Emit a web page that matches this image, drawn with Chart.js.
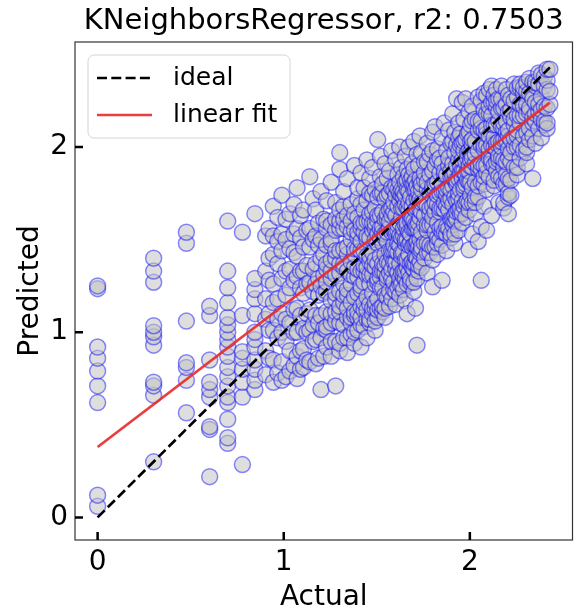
<!DOCTYPE html>
<html>
<head>
<meta charset="utf-8">
<title>KNeighborsRegressor</title>
<script src="https://cdn.jsdelivr.net/npm/chart.js@4.4.1/dist/chart.umd.min.js"></script>
<style>
  html, body { margin: 0; padding: 0; background: #ffffff; }
  canvas { display: block; }
</style>
</head>
<body>
<canvas id="chart" width="582" height="609"></canvas>
<script>
// Scatter of actual vs predicted values
const chartTitle = 'KNeighborsRegressor, r2: 0.7503';

// one entry per actual value, with the predictions seen at that value
const actualColumns = [
    0, 0.301, 0.477, 0.602, 0.699, 0.778, 0.845,
    0.903, 0.921, 0.944, 0.968, 0.99, 1.012, 1.033, 1.055, 1.072, 1.09,
    1.106, 1.124, 1.14, 1.158, 1.172, 1.187, 1.2, 1.215,
    1.23, 1.255, 1.279, 1.301,
    1.322, 1.342, 1.362, 1.38, 1.398, 1.415, 1.431, 1.447, 1.462, 1.477,
    1.491, 1.505, 1.519, 1.531, 1.544, 1.556, 1.568, 1.58, 1.591, 1.602,
    1.613, 1.623, 1.633, 1.643, 1.653, 1.663, 1.672, 1.681, 1.69, 1.699,
    1.708, 1.716, 1.724, 1.732, 1.74, 1.756, 1.771, 1.785, 1.8, 1.813,
    1.826, 1.839, 1.851, 1.863, 1.875, 1.886, 1.898, 1.908, 1.919, 1.929,
    1.94, 1.949, 1.959, 1.968, 1.978, 1.987, 1.996, 2.004, 2.013, 2.029,
    2.045, 2.061, 2.076, 2.09, 2.104, 2.117, 2.13, 2.143, 2.155, 2.17,
    2.182, 2.196, 2.207, 2.22, 2.238, 2.255, 2.27, 2.288, 2.305, 2.32,
    2.338, 2.352, 2.37, 2.384, 2.4, 2.415, 2.43
];

const predictedColumns = [
    [0.06, 0.12, 0.62, 0.71, 0.79, 0.86, 0.92, 1.235, 1.25],
    [0.30, 0.66, 0.71, 0.73, 0.93, 0.975, 1.0, 1.035, 1.27, 1.33, 1.40],
    [0.565, 0.74, 0.81, 0.835, 1.06, 1.48, 1.54],
    [0.22, 0.475, 0.49, 0.65, 0.69, 0.73, 0.85, 1.09, 1.14],
    [0.40, 0.43, 0.53, 0.62, 0.65, 0.71, 0.76, 0.81, 0.87, 0.92, 0.96, 1.0, 1.04, 1.08, 1.16, 1.24, 1.33, 1.60],
    [0.285, 0.65, 0.73, 0.80, 0.86, 0.895, 1.09, 1.54],
    [0.69, 0.74, 0.80, 0.85, 0.92, 0.96, 1.0, 1.10, 1.18, 1.23, 1.29, 1.64],
    [0.77, 0.90, 1.07, 1.18, 1.33, 1.52],
    [0.86, 1.01, 1.10, 1.28, 1.40, 1.56],
    [0.73, 0.85, 1.01, 1.16, 1.26, 1.42, 1.52, 1.68],
    [0.78, 0.97, 1.07, 1.18, 1.37, 1.49, 1.62],
    [0.74, 0.84, 1.00, 1.10, 1.29, 1.44, 1.53, 1.74],
    [0.76, 0.95, 1.07, 1.20, 1.33, 1.50, 1.61],
    [0.79, 0.90, 1.05, 1.24, 1.34, 1.45, 1.64],
    [0.82, 1.00, 1.12, 1.28, 1.43, 1.53, 1.69],
    [0.75, 0.87, 1.00, 1.13, 1.30, 1.41, 1.56, 1.78],
    [0.80, 0.90, 1.09, 1.24, 1.33, 1.51, 1.63],
    [0.81, 0.91, 1.02, 1.21, 1.33, 1.46, 1.66],
    [0.85, 1.00, 1.10, 1.26, 1.36, 1.55],
    [0.84, 1.01, 1.12, 1.27, 1.46, 1.56, 1.84],
    [0.95, 1.04, 1.22, 1.34, 1.50, 1.72],
    [0.83, 0.96, 1.09, 1.26, 1.37, 1.52, 1.66],
    [0.86, 1.05, 1.20, 1.29, 1.47, 1.59],
    [0.69, 0.97, 1.09, 1.25, 1.40, 1.50, 1.76],
    [0.87, 1.02, 1.21, 1.31, 1.42, 1.61],
    [0.92, 1.01, 1.03, 1.11, 1.22, 1.27, 1.34, 1.37, 1.47, 1.56, 1.60, 1.71],
    [0.87, 0.95, 1.05, 1.10, 1.17, 1.29, 1.33, 1.39, 1.48, 1.50, 1.58, 1.81],
    [0.71, 0.95, 1.06, 1.11, 1.18, 1.21, 1.31, 1.40, 1.44, 1.55, 1.61, 1.70],
    [0.90, 0.94, 1.05, 1.11, 1.14, 1.22, 1.32, 1.37, 1.44, 1.56, 1.60, 1.66, 1.88, 1.97],
    [0.97, 1.04, 1.16, 1.20, 1.26, 1.35, 1.37, 1.45, 1.56, 1.61, 1.68, 1.76],
    [0.89, 0.97, 1.08, 1.13, 1.20, 1.23, 1.33, 1.42, 1.46, 1.57, 1.63, 1.83],
    [0.99, 1.05, 1.08, 1.16, 1.26, 1.31, 1.38, 1.50, 1.54, 1.60, 1.69],
    [0.94, 1.00, 1.09, 1.11, 1.19, 1.30, 1.35, 1.42, 1.45, 1.55, 1.64, 1.90],
    [1.01, 1.08, 1.11, 1.21, 1.30, 1.34, 1.45, 1.51, 1.54, 1.62, 1.72, 1.78],
    [0.92, 1.04, 1.08, 1.14, 1.23, 1.25, 1.33, 1.44, 1.49, 1.56, 1.59, 1.69, 1.86],
    [1.03, 1.12, 1.16, 1.27, 1.33, 1.36, 1.44, 1.54, 1.59, 1.66, 1.78],
    [0.97, 1.07, 1.12, 1.19, 1.31, 1.35, 1.41, 1.50, 1.52, 1.60, 1.71, 1.93],
    [1.05, 1.07, 1.15, 1.26, 1.31, 1.38, 1.41, 1.51, 1.60, 1.64, 1.75, 1.83],
    [1.10, 1.13, 1.21, 1.31, 1.36, 1.43, 1.55, 1.59, 1.65, 1.74, 1.89],
    [1.01, 1.06, 1.13, 1.16, 1.26, 1.35, 1.39, 1.50, 1.56, 1.59, 1.67, 1.77],
    [1.08, 1.12, 1.18, 1.27, 1.29, 1.37, 1.48, 1.53, 1.60, 1.63, 1.73, 2.04],
    [1.13, 1.24, 1.30, 1.33, 1.41, 1.51, 1.56, 1.63, 1.75, 1.84, 1.95],
    [1.11, 1.14, 1.24, 1.33, 1.37, 1.48, 1.54, 1.57, 1.65, 1.75, 1.80],
    [1.08, 1.13, 1.20, 1.32, 1.36, 1.42, 1.51, 1.53, 1.61, 1.72, 1.91],
    [1.19, 1.28, 1.30, 1.38, 1.49, 1.54, 1.61, 1.64, 1.74, 1.83],
    [1.14, 1.22, 1.32, 1.37, 1.44, 1.56, 1.60, 1.66, 1.75, 1.87],
    [1.18, 1.29, 1.34, 1.41, 1.44, 1.54, 1.63, 1.67, 1.78, 1.98],
    [1.23, 1.27, 1.38, 1.44, 1.47, 1.55, 1.65, 1.70, 1.77],
    [1.15, 1.22, 1.34, 1.38, 1.44, 1.53, 1.55, 1.63, 1.74, 1.79, 1.93],
    [1.24, 1.32, 1.43, 1.48, 1.55, 1.58, 1.68, 1.77, 1.85],
    [1.20, 1.26, 1.29, 1.37, 1.47, 1.52, 1.59, 1.71, 1.75, 1.81, 2.0],
    [1.26, 1.32, 1.41, 1.43, 1.51, 1.62, 1.67, 1.74, 1.77, 1.89],
    [1.23, 1.30, 1.33, 1.43, 1.52, 1.56, 1.67, 1.73, 1.76, 1.84],
    [1.17, 1.29, 1.33, 1.39, 1.48, 1.50, 1.58, 1.69, 1.74, 1.81, 1.95],
    [1.10, 1.26, 1.35, 1.39, 1.50, 1.56, 1.59, 1.67, 1.77, 1.82, 1.88],
    [1.32, 1.42, 1.47, 1.54, 1.66, 1.70, 1.76, 1.85, 2.0],
    [1.27, 1.29, 1.37, 1.48, 1.53, 1.60, 1.63, 1.73, 1.82],
    [1.35, 1.38, 1.46, 1.56, 1.61, 1.68, 1.80, 1.84, 1.91],
    [1.22, 1.27, 1.34, 1.37, 1.47, 1.56, 1.60, 1.71, 1.77, 1.80, 1.88, 2.03],
    [1.13, 1.37, 1.41, 1.47, 1.56, 1.58, 1.66, 1.77, 1.82],
    [0.93, 1.29, 1.40, 1.46, 1.49, 1.57, 1.67, 1.72, 1.79, 1.96],
    [1.33, 1.36, 1.46, 1.55, 1.59, 1.70, 1.76, 1.90],
    [1.38, 1.43, 1.50, 1.62, 1.66, 1.72, 1.81, 1.83, 2.06],
    [1.35, 1.44, 1.46, 1.54, 1.65, 1.70, 1.77, 1.80, 1.97],
    [1.40, 1.48, 1.58, 1.63, 1.70, 1.82, 1.86, 1.92],
    [1.32, 1.43, 1.48, 1.55, 1.58, 1.68, 1.77, 1.81, 1.92, 2.02],
    [1.43, 1.47, 1.58, 1.64, 1.67, 1.75, 1.85, 1.96],
    [1.245, 1.39, 1.46, 1.58, 1.62, 1.68, 1.77, 1.79, 1.87, 1.98, 2.08],
    [1.46, 1.54, 1.65, 1.70, 1.77, 1.80, 1.90, 2.11],
    [1.42, 1.48, 1.51, 1.59, 1.69, 1.74, 1.81, 1.93, 1.99],
    [1.50, 1.56, 1.65, 1.67, 1.75, 1.86, 1.94],
    [1.28, 1.47, 1.54, 1.57, 1.67, 1.76, 1.80, 1.91, 2.05],
    [1.54, 1.66, 1.70, 1.76, 1.85, 1.87, 2.13],
    [1.44, 1.53, 1.57, 1.68, 1.74, 1.77, 1.85, 1.98],
    [1.56, 1.66, 1.71, 1.78, 1.90, 1.94, 2.09],
    [1.51, 1.53, 1.61, 1.72, 1.77, 1.84, 1.87, 2.02],
    [1.58, 1.61, 1.69, 1.79, 1.84, 1.91, 2.03, 2.18],
    [1.48, 1.53, 1.60, 1.63, 1.73, 1.82, 1.86, 1.97, 2.08],
    [1.61, 1.65, 1.71, 1.80, 1.82, 1.90, 2.01, 2.26],
    [1.55, 1.66, 1.72, 1.75, 1.83, 1.93, 1.98, 2.05, 2.13],
    [1.64, 1.67, 1.77, 1.86, 1.90, 2.01, 2.07],
    [1.59, 1.64, 1.71, 1.83, 1.87, 1.93, 2.02, 2.24],
    [1.68, 1.77, 1.79, 1.87, 1.98, 2.03, 2.15],
    [1.62, 1.70, 1.80, 1.85, 1.92, 2.04, 2.26],
    [1.71, 1.82, 1.87, 1.94, 1.97, 2.07],
    [1.445, 1.66, 1.70, 1.81, 1.87, 1.90, 1.98, 2.08, 2.19],
    [1.74, 1.81, 1.93, 1.97, 2.03, 2.12],
    [1.53, 1.70, 1.78, 1.89, 1.94, 2.01, 2.04, 2.14, 2.22],
    [1.64, 1.70, 1.73, 1.81, 1.91, 1.96, 2.03, 2.15],
    [1.49, 1.73, 1.79, 1.88, 1.90, 1.98, 2.09, 2.14, 2.27],
    [1.28, 1.57, 1.81, 1.88, 1.91, 2.01, 2.10, 2.14, 2.25],
    [1.68, 1.80, 1.84, 1.90, 1.99, 2.01, 2.09, 2.20, 2.29],
    [1.55, 1.77, 1.86, 1.90, 2.01, 2.07, 2.10, 2.18, 2.28],
    [1.84, 1.94, 1.99, 2.06, 2.18, 2.22, 2.31],
    [1.63, 1.91, 1.93, 2.01, 2.12, 2.17, 2.24, 2.33],
    [1.79, 1.82, 1.90, 2.00, 2.05, 2.12, 2.24, 2.28],
    [1.87, 1.92, 1.99, 2.02, 2.12, 2.21, 2.25, 2.31],
    [1.70, 1.84, 1.93, 1.95, 2.03, 2.14, 2.19, 2.26],
    [1.83, 1.94, 2.00, 2.03, 2.11, 2.21, 2.26, 2.33],
    [1.67, 1.70, 1.80, 1.89, 1.93, 2.04, 2.10, 2.13, 2.21],
    [1.80, 1.85, 1.92, 2.04, 2.08, 2.14, 2.23, 2.31],
    [1.64, 1.73, 1.75, 1.83, 1.94, 1.99, 2.06, 2.09, 2.19, 2.28],
    [1.74, 1.82, 1.92, 1.97, 2.04, 2.16, 2.20, 2.26],
    [1.89, 2.00, 2.05, 2.12, 2.15, 2.25, 2.34],
    [1.85, 1.89, 2.00, 2.06, 2.09, 2.17, 2.27, 2.32],
    [1.94, 2.01, 2.13, 2.17, 2.23, 2.32, 2.34],
    [1.98, 2.06, 2.17, 2.22, 2.29, 2.32],
    [1.91, 1.97, 2.00, 2.08, 2.18, 2.23, 2.30, 2.35],
    [2.04, 2.10, 2.19, 2.21, 2.29, 2.37],
    [1.83, 2.06, 2.13, 2.16, 2.26, 2.35],
    [2.02, 2.14, 2.18, 2.24, 2.33, 2.35],
    [2.10, 2.19, 2.23, 2.34, 2.40],
    [2.05, 2.15, 2.20, 2.27, 2.39],
    [2.12, 2.14, 2.22, 2.33, 2.38],
    [2.10, 2.13, 2.21, 2.31, 2.36, 2.42],
    [2.23, 2.30, 2.42]
];

// reference lines
const idealActual = [0, 2.43];
const idealPredicted = [0, 2.43];
const fitActual = [0, 2.43];
const fitPredicted = [0.38, 2.24];

const xTickValues = [0, 1, 2];
const yTickValues = [0, 1, 2];
const legendLabels = ['ideal', 'linear fit'];

const FONT = "'DejaVu Sans', sans-serif";

// build point list for the scatter dataset
const scatterPoints = [];
actualColumns.forEach(function(x, i) {
    predictedColumns[i].forEach(function(y) {
        scatterPoints.push({ x: x, y: y });
    });
});

function pairUp(xs, ys) {
    return xs.map(function(x, i) { return { x: x, y: ys[i] }; });
}

// frame, inward ticks and the boxed legend
const axesDecor = {
    id: 'axesDecor',
    afterDatasetsDraw: function(chart) {
        const ctx = chart.ctx;
        const area = chart.chartArea;
        const xs = chart.scales.x;
        const ys = chart.scales.y;
        ctx.save();

        // spines
        ctx.strokeStyle = '#333333';
        ctx.lineWidth = 1.2;
        ctx.strokeRect(area.left, area.top, area.right - area.left, area.bottom - area.top);

        // ticks pointing inside
        ctx.strokeStyle = '#000000';
        ctx.lineWidth = 2.5;
        ctx.beginPath();
        xs.ticks.forEach(function(t) {
            const px = xs.getPixelForValue(t.value);
            ctx.moveTo(px, area.bottom);
            ctx.lineTo(px, area.bottom - 8);
        });
        ys.ticks.forEach(function(t) {
            const py = ys.getPixelForValue(t.value);
            ctx.moveTo(area.left, py);
            ctx.lineTo(area.left + 8, py);
        });
        ctx.stroke();

        // legend
        const lx = area.left + 13, ly = area.top + 13, lw = 202, lh = 83;
        ctx.beginPath();
        ctx.roundRect(lx, ly, lw, lh, 6);
        ctx.fillStyle = 'rgba(255,255,255,0.8)';
        ctx.fill();
        ctx.strokeStyle = '#d4d4d4';
        ctx.lineWidth = 1;
        ctx.stroke();

        const lineSets = [chart.data.datasets[1], chart.data.datasets[2]];
        lineSets.forEach(function(ds, i) {
            const rowY = ly + 23 + i * 37;
            ctx.beginPath();
            ctx.setLineDash(ds.borderDash || []);
            ctx.strokeStyle = ds.borderColor;
            ctx.lineWidth = ds.borderWidth;
            ctx.moveTo(lx + 9, rowY);
            ctx.lineTo(lx + 64, rowY);
            ctx.stroke();
            ctx.setLineDash([]);
            ctx.fillStyle = '#000000';
            ctx.font = '25px ' + FONT;
            ctx.textBaseline = 'middle';
            ctx.fillText(legendLabels[i], lx + 85, rowY);
        });
        ctx.restore();
    }
};

const ctx = document.getElementById('chart');
const chart = new Chart(ctx, {
    type: 'scatter',
    data: {
        datasets: [
            {
                label: 'points',
                data: scatterPoints,
                order: 2,
                pointRadius: 8,
                pointHoverRadius: 8,
                borderWidth: 1.5,
                backgroundColor: 'rgba(195,195,195,0.55)',
                borderColor: 'rgba(0,0,255,0.45)'
            },
            {
                type: 'line',
                label: legendLabels[0],
                data: pairUp(idealActual, idealPredicted),
                order: 1,
                borderColor: '#000000',
                borderDash: [10, 4.3],
                borderWidth: 2.7,
                pointRadius: 0,
                fill: false
            },
            {
                type: 'line',
                label: legendLabels[1],
                data: pairUp(fitActual, fitPredicted),
                order: 0,
                borderColor: 'rgba(232,45,45,0.92)',
                borderWidth: 2.7,
                pointRadius: 0,
                fill: false
            }
        ]
    },
    options: {
        responsive: false,
        animation: false,
        devicePixelRatio: 1,
        layout: { padding: { left: 0, right: 4, top: 0, bottom: 0 } },
        plugins: {
            legend: { display: false },
            tooltip: { enabled: false },
            title: {
                display: true,
                text: chartTitle,
                fullSize: false,
                color: '#000000',
                font: { family: FONT, size: 29, weight: 'normal', lineHeight: 1.2 },
                padding: { top: 3.6, bottom: 3.6 }
            }
        },
        scales: {
            x: {
                type: 'linear',
                min: -0.1215,
                max: 2.5515,
                afterBuildTicks: function(scale) {
                    scale.ticks = xTickValues.map(function(v) { return { value: v }; });
                },
                afterFit: function(scale) { scale.height = 69; },
                grid: { display: false, drawTicks: false },
                border: { display: false },
                ticks: {
                    color: '#000000',
                    padding: 6,
                    font: { family: FONT, size: 28 },
                    callback: function(v) { return String(v); }
                },
                title: {
                    display: true,
                    text: 'Actual',
                    color: '#000000',
                    font: { family: FONT, size: 28, lineHeight: 0.8 },
                    padding: { top: 0, bottom: 0 }
                }
            },
            y: {
                type: 'linear',
                min: -0.122,
                max: 2.567,
                afterBuildTicks: function(scale) {
                    scale.ticks = yTickValues.map(function(v) { return { value: v }; });
                },
                afterFit: function(scale) { scale.width = 75; },
                grid: { display: false, drawTicks: false },
                border: { display: false },
                ticks: {
                    color: '#000000',
                    padding: 7,
                    font: { family: FONT, size: 28 },
                    callback: function(v) { return String(v); }
                },
                title: {
                    display: true,
                    text: 'Predicted',
                    color: '#000000',
                    font: { family: FONT, size: 28, lineHeight: 1.2 },
                    padding: { top: 13.5, bottom: 0 }
                }
            }
        }
    },
    plugins: [axesDecor]
});
</script>
</body>
</html>
